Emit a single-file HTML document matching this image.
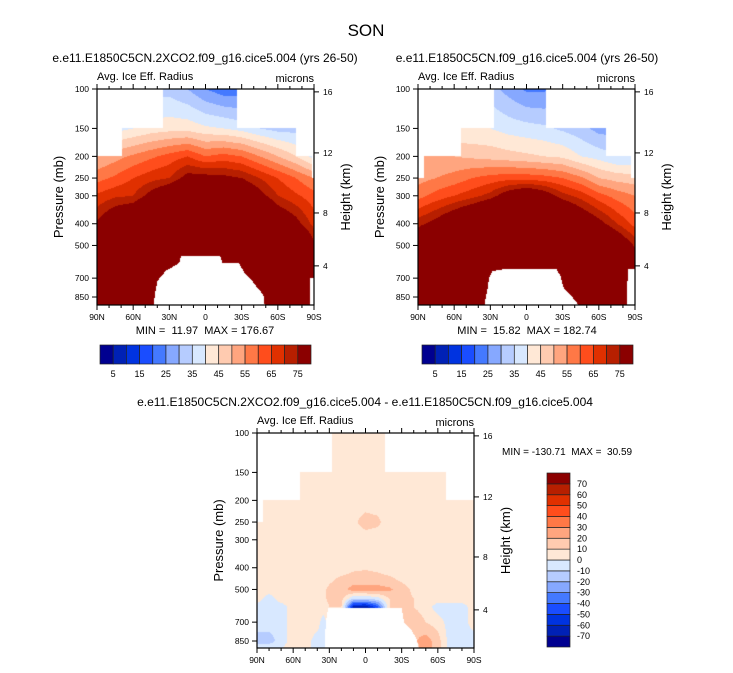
<!DOCTYPE html>
<html><head><meta charset="utf-8"><style>
body{margin:0;background:#fff;width:733px;height:673px;position:relative;overflow:hidden;font-family:"Liberation Sans",Arial,sans-serif}
canvas{position:absolute}
svg{position:absolute;left:0;top:0}
text{white-space:pre}
</style></head><body>
<canvas id="c0"></canvas>
<canvas id="c1"></canvas>
<canvas id="c2"></canvas>
<svg id="s" width="733" height="673"></svg>
<script>
// ---------- data ----------
const palette=['#000090','#0021b5','#0033e0','#1a4dff','#4479ff','#86a8ff','#b6ccff','#d8e8ff','#ffe8d6','#ffcbb0','#ffa57f','#ff7846','#ff4d1c','#e03000','#b71f00','#8b0000'];
const absLevels=[5,10,15,20,25,30,35,40,45,50,55,60,65,70,75];
const absLabels=[5,15,25,35,45,55,65,75];
const diffLevels=[-70,-60,-50,-40,-30,-20,-10,0,10,20,30,40,50,60,70];
const presTicks=[100,150,200,250,300,400,500,700,850];
const heightTicks=[16,12,8,4];
const heightTickPres=[103,193,358,617];
const latTickVals=[90,60,30,0,-30,-60,-90];
const latTickLabels=['90N','60N','30N','0','30S','60S','90S'];

const absLats=[90,75,60,45,30,15,0,-15,-30,-45,-60,-75,-90];
const absPres=[100,150,200,250,300,400,500,700,1000];
const leftVals=[
 [30,32,33,33,33,30,25,22,22,22,22,25,30],
 [36,38,40,42,43,43,41,40,38,35,33,33,33],
 [50,53,56,59,62,65,60,62,60,55,50,45,38],
 [58,61,65,68,70,78,78,77,75,70,65,60,55],
 [66,69,70,78,85,95,95,92,85,78,70,66,62],
 [76,85,90,100,110,120,120,118,110,100,85,78,68],
 [95,110,120,120,120,120,120,120,120,120,110,95,77],
 [120,120,120,120,120,120,120,120,120,120,120,120,100],
 [120,120,120,120,120,120,120,120,120,120,120,120,120]];
const leftTops=[[90,69,200],[69,35,150],[35,-26,100],[-26,-75,150],[-75,-88,200],[-88,-90,250]];
const leftTopo=[[90,1000],[44,1000],[42,830],[40,720],[37,690],[33,650],[22,600],[20,555],[-12,555],[-14,600],[-28,600],[-32,660],[-37,700],[-42,760],[-48,830],[-50,1000],[-86,1000],[-87,700],[-90,700]];

const rightVals=[
 [30,30,30,30,32,28,24,24,30,30,30,30,30],
 [40,40,40,40,40,38,37,36,34,32,28,28,30],
 [50,50,50,49,48,47,46,45,44,40,38,35,35],
 [53,55,57,60,62,63,63,62,60,56,50,48,47],
 [58,62,65,68,72,80,85,80,72,68,62,58,55],
 [73,78,85,92,100,110,110,105,95,85,78,70,63],
 [85,95,110,120,120,120,120,120,110,100,95,85,74],
 [120,120,120,120,120,120,120,120,120,120,120,110,90],
 [120,120,120,120,120,120,120,120,120,120,120,120,120]];
const rightTops=[[90,85,250],[85,54,200],[54,27,150],[27,-16,100],[-16,-66,150],[-66,-87,200],[-87,-90,250]];
const rightTopo=[[90,1000],[36,1000],[34,870],[32,760],[31,700],[28,650],[20,640],[-25,640],[-28,680],[-31,780],[-37,840],[-42,900],[-44,1000],[-83,1000],[-84,640],[-90,640]];

const diffLats=[90,80,70,60,50,40,35,30,20,10,0,-10,-20,-30,-40,-50,-60,-70,-80,-90];
const diffPres=[100,200,250,300,400,450,500,550,600,700,850,1000];
const diffVals=[
 [5,5,5,5,5,5,5,5,5,5,5,5,5,5,5,5,5,5,5,5],
 [5,5,5,5,5,5,5,5,5,5,5,5,5,5,5,5,5,5,5,5],
 [5,5,5,5,5,5,5,5,5,8,14,12,5,5,5,5,5,5,5,5],
 [5,5,5,5,5,5,5,5,5,5,5,5,5,5,5,5,5,5,5,5],
 [5,5,5,5,5,5,5,5,5,8,9,8,5,5,5,5,5,5,5,5],
 [5,5,5,5,5,5,5,8,12,14,14,13,12,8,5,5,5,5,5,5],
 [5,5,5,5,5,5,8,12,15,25,25,25,22,14,8,5,5,5,5,5],
 [5,-5,5,5,5,5,8,12,14,-10,-10,-5,10,14,10,5,5,5,5,5],
 [-5,-5,-5,5,5,5,5,10,10,-65,-70,-45,10,15,10,5,-5,-5,-5,5],
 [-5,-5,-5,5,5,5,-5,5,5,5,5,5,5,15,18,10,5,-5,-5,5],
 [-15,-15,-5,5,5,-5,-8,5,5,5,5,5,5,5,18,25,15,-5,-5,-5],
 [12,12,5,5,5,-8,-8,5,5,5,5,5,5,5,10,28,15,-5,-5,5]];
const diffTops=[[90,85,250],[85,54.5,200],[54.5,27.4,150],[27.4,-16,100],[-16,-66.7,150],[-66.7,-90,200]];
const diffTopo=[[90,1000],[34,1000],[33,700],[31,606],[-30,606],[-32,700],[-38,760],[-42,820],[-46,1000],[-90,1000]];

// ---------- rendering ----------
const K=97.2;
function hex(c){return [parseInt(c.substr(1,2),16),parseInt(c.substr(3,2),16),parseInt(c.substr(5,2),16)];}
const pal=palette.map(hex);
function idx(v,lv){let i=0;while(i<lv.length&&v>=lv[i])i++;return i;}
function interp(lats,pres,vals,lat,p){
  let i=0;while(i<lats.length-2&&lat<lats[i+1])i++;
  let j=0;while(j<pres.length-2&&p>pres[j+1])j++;
  let tx=(lats[i]-lat)/(lats[i]-lats[i+1]);tx=Math.max(0,Math.min(1,tx));
  let ty=Math.log(p/pres[j])/Math.log(pres[j+1]/pres[j]);ty=Math.max(0,Math.min(1,ty));
  const a=vals[j][i],b=vals[j][i+1],c=vals[j+1][i],d=vals[j+1][i+1];
  return (a*(1-tx)+b*tx)*(1-ty)+(c*(1-tx)+d*tx)*ty;
}
function topP(tops,lat){for(const t of tops){if(lat<=t[0]&&lat>=t[1])return t[2];}return 100;}
function surfP(topo,lat){for(let i=0;i<topo.length-1;i++){const a=topo[i],b=topo[i+1];if(lat<=a[0]&&lat>=b[0]){const t=(a[0]-lat)/(a[0]-b[0]||1);return a[1]+(b[1]-a[1])*t;}}return 1000;}
const panels=[
 {id:'c0',x:97,y:89,w:217,h:216,lats:absLats,pres:absPres,vals:leftVals,tops:leftTops,topo:leftTopo,lv:absLevels},
 {id:'c1',x:418,y:89,w:217,h:216,lats:absLats,pres:absPres,vals:rightVals,tops:rightTops,topo:rightTopo,lv:absLevels},
 {id:'c2',x:257,y:433,w:217,h:215,lats:diffLats,pres:diffPres,vals:diffVals,tops:diffTops,topo:diffTopo,lv:diffLevels}];
panels.forEach(P=>{
  const cv=document.getElementById(P.id);cv.width=P.w;cv.height=P.h;
  cv.style.left=P.x+'px';cv.style.top=P.y+'px';
  const ctx=cv.getContext('2d');const im=ctx.createImageData(P.w,P.h);
  for(let px=0;px<P.w;px++){
    const lat=90-(px+0.5)/P.w*180;const tp=topP(P.tops,lat),sp=surfP(P.topo,lat);
    for(let py=0;py<P.h;py++){
      const p=100*Math.exp((py+0.5)/K);const o=(py*P.w+px)*4;
      let c=[255,255,255];
      if(p>=tp&&p<=sp){c=pal[idx(interp(P.lats,P.pres,P.vals,lat,p),P.lv)];}
      im.data[o]=c[0];im.data[o+1]=c[1];im.data[o+2]=c[2];im.data[o+3]=255;
    }
  }
  ctx.putImageData(im,0,0);
});
// ---------- overlay ----------
const S=document.getElementById('s');const NS='http://www.w3.org/2000/svg';
function el(tag,attrs,txt){const e=document.createElementNS(NS,tag);for(const k in attrs)e.setAttribute(k,attrs[k]);if(txt!==undefined)e.textContent=txt;S.appendChild(e);return e;}
function txt(x,y,s,size,anchor,name,extra){const e=el('text',Object.assign({x:x,y:y,'font-size':size,'text-anchor':anchor||'start',fill:'#000'},extra||{}),s);

return e;}
txt(366,36,'SON',17,'middle','figure-title');
txt(205,62,'e.e11.E1850C5CN.2XCO2.f09_g16.cice5.004 (yrs 26-50)',12,'middle','left-panel-title');
txt(527,62,'e.e11.E1850C5CN.f09_g16.cice5.004 (yrs 26-50)',12,'middle','right-panel-title');
txt(365,406,'e.e11.E1850C5CN.2XCO2.f09_g16.cice5.004 - e.e11.E1850C5CN.f09_g16.cice5.004',12,'middle','difference-panel-title');
const minmax=[['MIN =  11.97  MAX = 176.67',205,334,'middle'],['MIN =  15.82  MAX = 182.74',527,334,'middle']];
minmax.forEach((m,i)=>txt(m[1],m[2],m[0],11,m[3],'minmax-label'));
txt(502,455,'MIN = -130.71  MAX =  30.59',10,'start','diff-minmax-label');
panels.forEach((P,pi)=>{
  const r=el('rect',{x:P.x,y:P.y,width:P.w,height:P.h,fill:'none',stroke:'#000','stroke-width':1.2});
  
  
  txt(P.x,P.y-9,'Avg. Ice Eff. Radius',11,'start','field-label');
  txt(P.x+P.w,P.y-7,'microns',11,'end','units-label');
  presTicks.forEach(p=>{const y=P.y+K*Math.log(p/100);
    el('line',{x1:P.x-5,x2:P.x,y1:y,y2:y,stroke:'#000'});
    txt(P.x-8,y+3,String(p),8.5,'end','pressure-tick-label');});
  heightTicks.forEach((h,i)=>{const y=P.y+K*Math.log(heightTickPres[i]/100);
    el('line',{x1:P.x+P.w,x2:P.x+P.w+5,y1:y,y2:y,stroke:'#000'});
    txt(P.x+P.w+9,y+3,String(h),8.5,'start','height-tick-label');});
  for(let l=90;l>=-90;l-=10){const x=P.x+(90-l)/180*P.w;const major=l%30===0;
    el('line',{x1:x,x2:x,y1:P.y+P.h,y2:P.y+P.h+(major?5:3),stroke:'#000'});
    el('line',{x1:x,x2:x,y1:P.y,y2:P.y-(major?5:3),stroke:'#000'});}
  latTickVals.forEach((l,i)=>{const x=P.x+(90-l)/180*P.w;txt(x,P.y+P.h+15,latTickLabels[i],8.5,'middle','lat-tick-label');});
  const cy=P.y+P.h/2;
  txt(0,0,'Pressure (mb)',13,'middle','y-axis-title',{transform:`translate(${P.x-34},${cy}) rotate(-90)`});
  txt(0,0,'Height (km)',13,'middle','y2-axis-title',{transform:`translate(${P.x+P.w+36},${cy}) rotate(-90)`});
});
// horizontal colorbars
[[100,345],[422,345]].forEach(cb=>{
  const bw=211/16;
  for(let i=0;i<16;i++){const r=el('rect',{x:cb[0]+i*bw,y:cb[1],width:bw,height:19,fill:palette[i],stroke:'#222','stroke-width':0.7});
    
    }
  absLabels.forEach(v=>{const b=absLevels.indexOf(v)+1;txt(cb[0]+b*bw,cb[1]+32,String(v),9,'middle','colorbar-label');});
});
// vertical colorbar
{const x=547,y=473,w=23,h=174,bh=h/16;
 for(let i=0;i<16;i++){const r=el('rect',{x:x,y:y+(15-i)*bh,width:w,height:bh,fill:palette[i],stroke:'#222','stroke-width':0.7});
   
   }
 diffLevels.forEach((v,i)=>{const yy=y+(15-i)*bh;txt(x+30,yy+3,String(v),9,'start','diff-colorbar-label');});
}
</script>
</body></html>
